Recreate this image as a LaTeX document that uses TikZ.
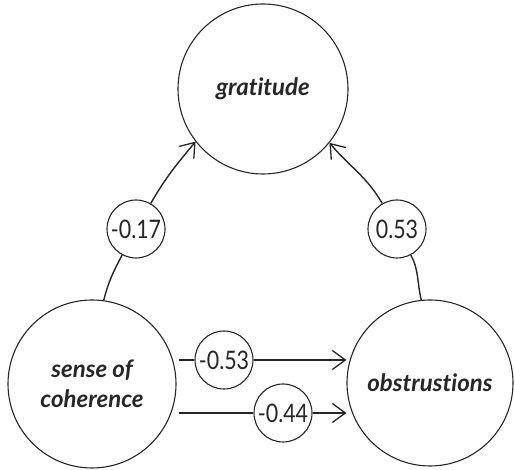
\documentclass[tikz,border=0pt]{standalone}
\usepackage{fontspec}
\setmainfont{Lato}[Ligatures=NoCommon]
\newfontfamily\numfont{Lato}[FakeStretch=0.84]
\usetikzlibrary{arrows.meta}
\begin{document}
\begin{tikzpicture}[x=1pt,y=1pt,
  big/.style={circle,draw=black!85,line width=1.1pt,inner sep=0pt,font=\fontsize{24}{30}\selectfont\bfseries\itshape,text=black!85,align=center},
  coef/.style={circle,draw=black!85,line width=1.1pt,inner sep=0pt,minimum size=58pt,font=\numfont\fontsize{25.5}{28}\selectfont,text=black!85},
  conn/.style={line width=1.4pt,draw=black!85},
  tip/.style={-{Straight Barb[length=13pt,width=19pt,line width=1.3pt]}}
]
\useasboundingbox (0,0) rectangle (515,470);
\node[big,minimum size=170pt] (grat) at (263,381) {gratitude};
\node[big,minimum size=168pt] (soc) at (92,86) {sense of\\coherence};
\node[big,minimum size=166pt] (obs) at (430,87) {obstrustions};
\node[coef] (l1) at (136,241) {-0.17};
\node[coef] (l2) at (397,241) {0.53};
\node[coef] (l3) at (224,110) {-0.53};
\node[coef] (l4) at (283,57) {-0.44};
% left curved
\draw[conn] (soc.82) to[out=76,in=242] (l1);
\draw[conn,tip] (l1) to[out=60,in=230] (grat.218);
% right curved
\draw[conn] (obs.96) to[out=104,in=-62] (l2);
\draw[conn,tip] (l2) to[out=120,in=-50] (grat.-39);
% horizontal
\draw[conn,shorten <=2pt] (soc.east |- l3) -- (l3);
\draw[conn,tip] (l3) -- (l3 -| obs.west);
\draw[conn,shorten <=2pt] (soc.east |- l4) -- (l4);
\draw[conn,tip] (l4) -- (l4 -| obs.west);
\end{tikzpicture}
\end{document}
